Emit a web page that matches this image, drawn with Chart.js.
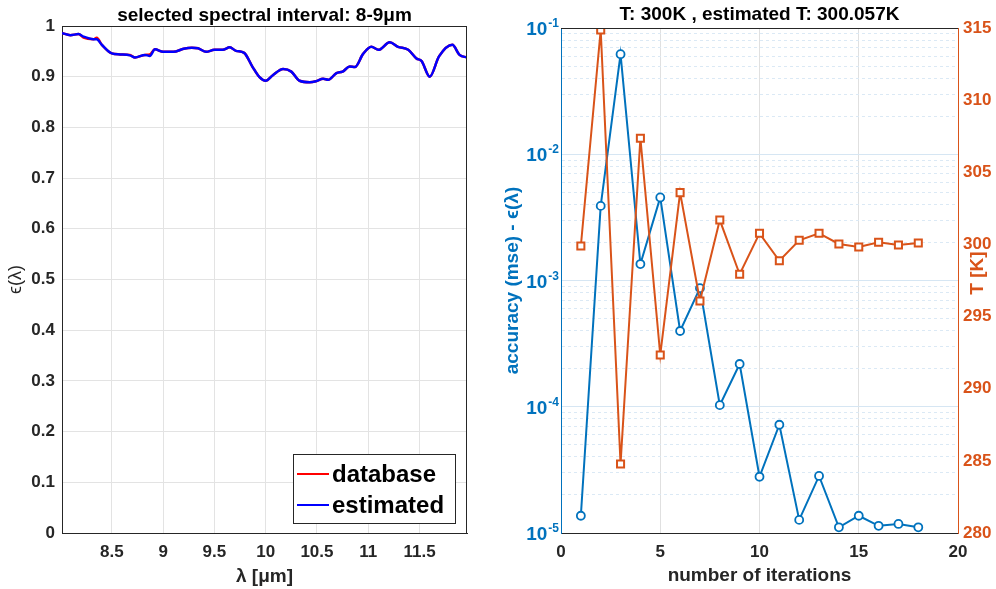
<!DOCTYPE html>
<html>
<head>
<meta charset="utf-8">
<title>emissivity estimate</title>
<script src="https://cdn.jsdelivr.net/npm/chart.js@4.4.0/dist/chart.umd.min.js"></script>
<style>
  html, body { margin: 0; padding: 0; background: #fff; }
  #wrap { position: relative; width: 996px; height: 589px; }
  #spectrumChart { position: absolute; left: 0; top: 0; }
  #iterChart { position: absolute; left: 490px; top: 0; }
</style>
</head>
<body>
<div id="wrap">
  <canvas id="spectrumChart" width="490" height="589"></canvas>
  <canvas id="iterChart" width="506" height="589"></canvas>
</div>
<script>
const FONT = '"Liberation Sans", Arial, Helvetica, sans-serif';
const DARK = "#262626";
const BLUE = "#0072bd";
const ORANGE = "#d95319";

// left panel: emissivity over wavelength
const lambda = [8.014, 8.095, 8.175, 8.224, 8.321, 8.353, 8.402, 8.499, 8.58, 8.677,
  8.726, 8.823, 8.87, 8.92, 9.0, 9.1, 9.2, 9.28, 9.34, 9.42,
  9.5, 9.58, 9.65, 9.71, 9.79, 9.87, 9.94, 10.0, 10.07, 10.17,
  10.25, 10.33, 10.43, 10.49, 10.56, 10.61, 10.69, 10.75, 10.82, 10.87,
  10.95, 11.03, 11.1, 11.21, 11.29, 11.39, 11.47, 11.52, 11.6, 11.69,
  11.82, 11.89, 11.963];
const emissDatabase = [0.986, 0.982, 0.984, 0.977, 0.974, 0.977, 0.963, 0.946, 0.944, 0.943,
  0.938, 0.943, 0.944, 0.954, 0.949, 0.949, 0.955, 0.957, 0.956, 0.949,
  0.953, 0.953, 0.958, 0.951, 0.947, 0.920, 0.899, 0.892, 0.903, 0.915,
  0.910, 0.892, 0.889, 0.891, 0.896, 0.894, 0.907, 0.910, 0.920, 0.919,
  0.945, 0.959, 0.953, 0.968, 0.959, 0.953, 0.936, 0.931, 0.900, 0.940,
  0.963, 0.943, 0.938];
const emissEstimated = [0.986, 0.982, 0.984, 0.979, 0.974, 0.974, 0.963, 0.946, 0.944, 0.942,
  0.938, 0.943, 0.941, 0.954, 0.949, 0.949, 0.955, 0.957, 0.956, 0.949,
  0.953, 0.953, 0.958, 0.951, 0.947, 0.920, 0.899, 0.892, 0.903, 0.915,
  0.910, 0.892, 0.889, 0.891, 0.896, 0.894, 0.907, 0.910, 0.920, 0.919,
  0.945, 0.959, 0.953, 0.968, 0.959, 0.953, 0.936, 0.931, 0.900, 0.940,
  0.963, 0.943, 0.938];
const lambdaTicks = [8.5, 9, 9.5, 10, 10.5, 11, 11.5];
const emissTicks = [0, 0.1, 0.2, 0.3, 0.4, 0.5, 0.6, 0.7, 0.8, 0.9, 1];

// right panel: convergence per iteration
const iterations = [1, 2, 3, 4, 5, 6, 7, 8, 9, 10, 11, 12, 13, 14, 15, 16, 17, 18];
const accuracy = [1.37e-5, 3.9e-3, 6.2e-2, 1.35e-3, 4.55e-3, 3.98e-4, 8.7e-4, 1.03e-4, 2.18e-4,
  2.79e-5, 7.2e-5, 1.27e-5, 2.83e-5, 1.11e-5, 1.37e-5, 1.14e-5, 1.18e-5, 1.11e-5];
const temperature = [299.89, 314.86, 284.78, 307.36, 292.34, 303.59, 296.08, 301.69, 297.93,
  300.77, 298.87, 300.29, 300.77, 300.03, 299.82, 300.15, 299.96, 300.10];
const iterTicks = [0, 5, 10, 15, 20];
const accDecades = [1e-5, 1e-4, 1e-3, 1e-2, 1e-1];
const tempTicks = [280, 285, 290, 295, 300, 305, 310, 315];

// pair two arrays into {x, y} points
function pts(xs, ys) {
  return xs.map((x, i) => ({ x: x, y: ys[i] }));
}

// decade + the 2..9 steps between, for the log grid
function logGrid() {
  const out = [];
  for (let i = 0; i < accDecades.length; i++) {
    out.push(accDecades[i]);
    if (i < accDecades.length - 1) {
      for (let m = 2; m <= 9; m++) out.push(m * accDecades[i]);
    }
  }
  return out;
}

function isDecade(v) {
  const l = Math.log10(v);
  return Math.abs(l - Math.round(l)) < 1e-9;
}

function tickFont(size) {
  return { family: FONT, size: size, weight: "bold" };
}

// top / right edges of the box
function framePlugin(drawRight) {
  return {
    id: "frame",
    afterDatasetsDraw(chart) {
      const a = chart.chartArea;
      const ctx = chart.ctx;
      ctx.save();
      ctx.strokeStyle = DARK;
      ctx.lineWidth = 1;
      ctx.beginPath();
      ctx.moveTo(a.left, a.top + 0.5);
      ctx.lineTo(a.right, a.top + 0.5);
      if (drawRight) {
        ctx.moveTo(a.right - 0.5, a.top);
        ctx.lineTo(a.right - 0.5, a.bottom);
      }
      ctx.stroke();
      ctx.restore();
    }
  };
}

function drawTitle(chart, text, baseline) {
  const a = chart.chartArea;
  const ctx = chart.ctx;
  ctx.save();
  ctx.fillStyle = "#000";
  ctx.font = "bold 19px " + FONT;
  ctx.textAlign = "center";
  ctx.fillText(text, (a.left + a.right) / 2, baseline);
  ctx.restore();
}

// title and boxed legend in the lower right corner
const spectrumText = {
  id: "spectrumText",
  afterDraw(chart) {
    drawTitle(chart, "selected spectral interval: 8-9\u03bcm", 21);
    const a = chart.chartArea;
    const ctx = chart.ctx;
    const w = 162, h = 69;
    const left = a.right - 12 - w;
    const top = a.bottom - 10 - h;
    ctx.save();
    ctx.fillStyle = "#fff";
    ctx.fillRect(left, top, w, h);
    ctx.strokeStyle = DARK;
    ctx.lineWidth = 1;
    ctx.strokeRect(left + 0.5, top + 0.5, w, h);
    ctx.font = "bold 24px " + FONT;
    ctx.textAlign = "left";
    ctx.textBaseline = "middle";
    const rows = [0, 1];
    for (let i = 0; i < rows.length; i++) {
      const ds = chart.data.datasets[i];
      const y = top + 20 + i * 31;
      ctx.strokeStyle = ds.borderColor;
      ctx.lineWidth = 2;
      ctx.beginPath();
      ctx.moveTo(left + 4, y);
      ctx.lineTo(left + 36, y);
      ctx.stroke();
      ctx.fillStyle = "#000";
      ctx.fillText(ds.label, left + 39, y + 1);
    }
    ctx.restore();
  }
};

// title, right axis label and the 10^n labels of the log axis
const iterText = {
  id: "iterText",
  afterDraw(chart) {
    drawTitle(chart, "T: 300K , estimated T: 300.057K", 20);
    const ctx = chart.ctx;
    const scale = chart.scales.y;
    ctx.save();
    ctx.fillStyle = BLUE;
    ctx.textAlign = "right";
    ctx.textBaseline = "alphabetic";
    accDecades.forEach(d => {
      const y = scale.getPixelForValue(d);
      const exp = String(Math.round(Math.log10(d)));
      ctx.font = "bold 12px " + FONT;
      const supRight = scale.right - 2;
      ctx.fillText(exp, supRight, y - 1);
      const supW = ctx.measureText(exp).width;
      ctx.font = "bold 19px " + FONT;
      ctx.fillText("10", supRight - supW - 1, y + 7);
    });
    const a = chart.chartArea;
    ctx.translate(a.right + 20, 273);
    ctx.rotate(-Math.PI / 2);
    ctx.textAlign = "center";
    ctx.textBaseline = "middle";
    ctx.fillStyle = ORANGE;
    ctx.font = "bold 19px " + FONT;
    ctx.fillText("T [K]", 0, 0);
    ctx.restore();
  }
};

new Chart(document.getElementById("spectrumChart"), {
  type: "line",
  data: {
    datasets: [
      {
        label: "database",
        data: pts(lambda, emissDatabase),
        borderColor: "#ff0000",
        borderWidth: 2.5,
        pointRadius: 0,
        cubicInterpolationMode: "monotone",
        order: 1
      },
      {
        label: "estimated",
        data: pts(lambda, emissEstimated),
        borderColor: "#0000ff",
        borderWidth: 2.5,
        pointRadius: 0,
        cubicInterpolationMode: "monotone",
        order: 0
      }
    ]
  },
  options: {
    responsive: false,
    animation: false,
    events: [],
    layout: { padding: { top: 26, right: 23, bottom: 0, left: 0 } },
    plugins: {
      legend: { display: false },
      tooltip: { enabled: false },
      title: { display: false }
    },
    scales: {
      x: {
        type: "linear",
        min: 8.014,
        max: 11.963,
        afterBuildTicks: s => { s.ticks = lambdaTicks.map(v => ({ value: v })); },
        afterFit: s => { s.height = 56; },
        ticks: {
          autoSkip: false, maxRotation: 0, padding: 9,
          color: DARK, font: tickFont(17),
          callback: v => String(v)
        },
        grid: { color: "#e3e3e3", drawTicks: false },
        border: { color: DARK },
        title: {
          display: true, text: "\u03bb [\u03bcm]", color: DARK,
          font: tickFont(19), padding: { top: 0, bottom: 1 }
        }
      },
      y: {
        min: 0,
        max: 1,
        afterBuildTicks: s => { s.ticks = emissTicks.map(v => ({ value: v })); },
        afterFit: s => { s.width = 62; },
        ticks: {
          autoSkip: false, padding: 7,
          color: DARK, font: tickFont(17),
          callback: v => String(v)
        },
        grid: { color: "#e3e3e3", drawTicks: false },
        border: { color: DARK },
        title: {
          display: true, text: "\u03f5(\u03bb)", color: DARK,
          font: { family: FONT, size: 18 }, padding: { top: 5, bottom: 0 }
        }
      }
    }
  },
  plugins: [framePlugin(true), spectrumText]
});

new Chart(document.getElementById("iterChart"), {
  type: "line",
  data: {
    datasets: [
      {
        label: "accuracy",
        data: pts(iterations, accuracy),
        yAxisID: "y",
        borderColor: BLUE,
        borderWidth: 2,
        pointStyle: "circle",
        pointRadius: 4,
        pointBorderWidth: 1.8,
        pointBackgroundColor: "#fff",
        pointBorderColor: BLUE,
        order: 1
      },
      {
        label: "T",
        data: pts(iterations, temperature),
        yAxisID: "y2",
        borderColor: ORANGE,
        borderWidth: 2,
        pointStyle: "rect",
        pointRadius: 5,
        pointBorderWidth: 2,
        pointBackgroundColor: "#fff",
        pointBorderColor: ORANGE,
        order: 0
      }
    ]
  },
  options: {
    responsive: false,
    animation: false,
    events: [],
    layout: { padding: { top: 28, right: 0, bottom: 0, left: 0 } },
    plugins: {
      legend: { display: false },
      tooltip: { enabled: false },
      title: { display: false }
    },
    scales: {
      x: {
        type: "linear",
        min: 0,
        max: 20,
        afterBuildTicks: s => { s.ticks = iterTicks.map(v => ({ value: v })); },
        afterFit: s => { s.height = 56; },
        ticks: {
          autoSkip: false, maxRotation: 0, padding: 9,
          color: DARK, font: tickFont(17)
        },
        grid: { color: "#e0e0e0", drawTicks: false },
        border: { color: DARK },
        title: {
          display: true, text: "number of iterations", color: DARK,
          font: tickFont(19), padding: { top: 0, bottom: 2 }
        }
      },
      y: {
        type: "logarithmic",
        position: "left",
        min: 1e-5,
        max: 1e-1,
        afterBuildTicks: s => { s.ticks = logGrid().map(v => ({ value: v })); },
        afterFit: s => { s.width = 71; },
        ticks: { autoSkip: false, callback: () => "" },
        grid: {
          drawTicks: false,
          color: ctx => (ctx.tick && !isDecade(ctx.tick.value)) ? "#dbe9f5" : "#d6e6f3"
        },
        border: {
          color: BLUE,
          dash: ctx => (ctx.tick && !isDecade(ctx.tick.value)) ? [3, 3] : []
        },
        title: {
          display: true, text: "accuracy (mse) - \u03f5(\u03bb)", color: BLUE,
          font: tickFont(19), padding: { top: 11, bottom: 0 }
        }
      },
      y2: {
        type: "linear",
        position: "right",
        min: 280,
        max: 315,
        afterBuildTicks: s => { s.ticks = tempTicks.map(v => ({ value: v })); },
        afterFit: s => { s.width = 38; },
        ticks: { autoSkip: false, padding: 5, color: ORANGE, font: tickFont(17) },
        grid: { drawOnChartArea: false, drawTicks: false },
        border: { color: ORANGE }
      }
    }
  },
  plugins: [framePlugin(false), iterText]
});
</script>
</body>
</html>
